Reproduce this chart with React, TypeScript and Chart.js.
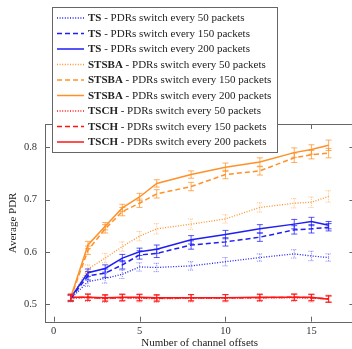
import React, { useEffect, useRef } from "react";
import { Chart, registerables } from "chart.js";

Chart.register(...registerables);

const channelOffsets = [1, 2, 3, 4, 5, 6, 8, 10, 12, 14, 15, 16];

const ts50 = [0.510, 0.543, 0.549, 0.557, 0.571, 0.570, 0.573, 0.581, 0.589, 0.596, 0.592, 0.589];
const ts150 = [0.511, 0.554, 0.559, 0.575, 0.594, 0.597, 0.613, 0.619, 0.628, 0.642, 0.644, 0.647];
const ts200 = [0.512, 0.560, 0.568, 0.588, 0.600, 0.605, 0.623, 0.633, 0.644, 0.653, 0.658, 0.651];
const stsba50 = [0.511, 0.567, 0.588, 0.610, 0.630, 0.644, 0.653, 0.663, 0.685, 0.693, 0.695, 0.706];
const stsba150 = [0.512, 0.603, 0.644, 0.677, 0.693, 0.711, 0.725, 0.748, 0.755, 0.780, 0.786, 0.789];
const stsba200 = [0.513, 0.613, 0.649, 0.684, 0.705, 0.731, 0.748, 0.762, 0.772, 0.790, 0.796, 0.804];
const tsch50 = [0.511, 0.512, 0.510, 0.512, 0.511, 0.510, 0.511, 0.511, 0.512, 0.512, 0.511, 0.510];
const tsch150 = [0.512, 0.513, 0.511, 0.512, 0.512, 0.511, 0.512, 0.512, 0.512, 0.513, 0.512, 0.510];
const tsch200 = [0.513, 0.513, 0.512, 0.513, 0.513, 0.512, 0.512, 0.512, 0.513, 0.513, 0.513, 0.509];

const ts50Err = [0.006, 0.009, 0.009, 0.008, 0.008, 0.008, 0.008, 0.008, 0.007, 0.008, 0.009, 0.007];
const ts150Err = [0.006, 0.008, 0.008, 0.008, 0.008, 0.008, 0.008, 0.008, 0.008, 0.008, 0.008, 0.007];
const ts200Err = [0.006, 0.007, 0.007, 0.007, 0.007, 0.008, 0.008, 0.008, 0.008, 0.009, 0.008, 0.007];
const stsba50Err = [0.006, 0.008, 0.009, 0.009, 0.009, 0.010, 0.010, 0.008, 0.009, 0.009, 0.010, 0.011];
const stsba150Err = [0.006, 0.008, 0.008, 0.008, 0.008, 0.008, 0.008, 0.008, 0.008, 0.009, 0.008, 0.009];
const stsba200Err = [0.006, 0.007, 0.007, 0.007, 0.007, 0.007, 0.007, 0.008, 0.008, 0.009, 0.009, 0.010];
const tsch50Err = [0.006, 0.007, 0.007, 0.007, 0.007, 0.007, 0.007, 0.007, 0.007, 0.007, 0.007, 0.007];
const tsch150Err = [0.006, 0.006, 0.006, 0.006, 0.006, 0.006, 0.006, 0.006, 0.006, 0.006, 0.006, 0.006];
const tsch200Err = [0.006, 0.006, 0.006, 0.006, 0.006, 0.006, 0.006, 0.006, 0.006, 0.006, 0.006, 0.006];

const algorithmNames = ["TS", "TS", "TS", "STSBA", "STSBA", "STSBA", "TSCH", "TSCH", "TSCH"];
const switchTexts = [
  " - PDRs switch every 50 packets",
  " - PDRs switch every 150 packets",
  " - PDRs switch every 200 packets",
  " - PDRs switch every 50 packets",
  " - PDRs switch every 150 packets",
  " - PDRs switch every 200 packets",
  " - PDRs switch every 50 packets",
  " - PDRs switch every 150 packets",
  " - PDRs switch every 200 packets",
];
const seriesValues = [ts50, ts150, ts200, stsba50, stsba150, stsba200, tsch50, tsch150, tsch200];
const seriesErrors = [ts50Err, ts150Err, ts200Err, stsba50Err, stsba150Err, stsba200Err, tsch50Err, tsch150Err, tsch200Err];

const xTitle = "Number of channel offsets";
const yTitle = "Average PDR";

const BLUE = "rgb(30,30,245)";
const ORANGE = "rgb(255,145,40)";
const RED = "rgb(255,20,20)";
const colors = [BLUE, BLUE, BLUE, ORANGE, ORANGE, ORANGE, RED, RED, RED];
const DOTTED = [1, 1.6];
const DASHED = [5, 3];
const dashes = [DOTTED, DASHED, [], DOTTED, DASHED, [], DOTTED, DASHED, []];

const SERIF = "'Liberation Serif', 'DejaVu Serif', serif";

const errorBarPlugin = {
  id: "errorBars",
  afterDatasetsDraw(chart: any) {
    const ctx = chart.ctx;
    const xs = chart.scales.x;
    const ys = chart.scales.y;
    ctx.save();
    ctx.beginPath();
    ctx.rect(chart.chartArea.left, chart.chartArea.top, chart.chartArea.right - chart.chartArea.left, chart.chartArea.bottom - chart.chartArea.top);
    ctx.clip();
    chart.data.datasets.forEach((ds: any, i: number) => {
      const errs = seriesErrors[i];
      const dash = dashes[i];
      const dotted = dash.length > 0 && dash[0] === 1;
      ctx.strokeStyle = colors[i];
      ctx.globalAlpha = dotted ? 0.55 : 0.75;
      ctx.lineWidth = 1;
      ctx.setLineDash(dotted ? [1, 1] : []);
      ds.data.forEach((p: any, j: number) => {
        const px = xs.getPixelForValue(p.x);
        const yt = ys.getPixelForValue(p.y + errs[j]);
        const yb = ys.getPixelForValue(p.y - errs[j]);
        ctx.beginPath();
        ctx.moveTo(px, yt);
        ctx.lineTo(px, yb);
        ctx.moveTo(px - 3, yt);
        ctx.lineTo(px + 3, yt);
        ctx.moveTo(px - 3, yb);
        ctx.lineTo(px + 3, yb);
        ctx.stroke();
      });
    });
    ctx.restore();
  },
};

const framePlugin = {
  id: "frameAndLegend",
  afterDraw(chart: any) {
    const ctx = chart.ctx;
    const { left, right, top, bottom } = chart.chartArea;
    const xs = chart.scales.x;
    const ys = chart.scales.y;
    ctx.save();
    ctx.strokeStyle = "#666";
    ctx.lineWidth = 1;
    ctx.setLineDash([]);
    ctx.strokeRect(Math.round(left) + 0.5, Math.round(top) + 0.5, Math.round(right - left), Math.round(bottom - top));
    ctx.beginPath();
    xs.ticks.forEach((t: any) => {
      const px = Math.round(xs.getPixelForValue(t.value)) + 0.5;
      ctx.moveTo(px, bottom);
      ctx.lineTo(px, bottom - 5);
      ctx.moveTo(px, top);
      ctx.lineTo(px, top + 5);
    });
    ys.ticks.forEach((t: any) => {
      const py = Math.round(ys.getPixelForValue(t.value)) + 0.5;
      ctx.moveTo(left, py);
      ctx.lineTo(left + 5, py);
      ctx.moveTo(right, py);
      ctx.lineTo(right - 5, py);
    });
    ctx.stroke();

    // legend
    const lx = 52, ly = 7, lw = 225, lh = 145;
    ctx.fillStyle = "#fff";
    ctx.fillRect(lx, ly, lw, lh);
    ctx.strokeStyle = "#666";
    ctx.strokeRect(lx + 0.5, ly + 0.5, lw, lh);
    const rowH = 15.5;
    for (let i = 0; i < algorithmNames.length; i++) {
      const cy = ly + 11 + i * rowH;
      ctx.strokeStyle = colors[i];
      ctx.lineWidth = 1.5;
      ctx.setLineDash(dashes[i]);
      ctx.beginPath();
      ctx.moveTo(lx + 5, cy);
      ctx.lineTo(lx + 32, cy);
      ctx.stroke();
      ctx.setLineDash([]);
      ctx.fillStyle = "#222";
      ctx.textBaseline = "middle";
      ctx.textAlign = "left";
      ctx.font = "bold 11px " + SERIF;
      ctx.fillText(algorithmNames[i], lx + 36, cy + 0.5);
      const w = ctx.measureText(algorithmNames[i]).width;
      ctx.font = "11px " + SERIF;
      ctx.fillText(switchTexts[i], lx + 36 + w, cy + 0.5);
    }
    ctx.restore();
  },
};

export default function App() {
  const canvasRef = useRef<HTMLCanvasElement>(null);
  useEffect(() => {
    if (!canvasRef.current) return;
    const datasets = seriesValues.map((vals, i) => ({
      label: algorithmNames[i] + switchTexts[i],
      data: channelOffsets.map((x, j) => ({ x, y: vals[j] })),
      borderColor: colors[i],
      backgroundColor: colors[i],
      borderWidth: dashes[i].length && dashes[i][0] === 1 ? 1.3 : 1.5,
      borderDash: dashes[i],
      pointRadius: 0,
      tension: 0,
      fill: false,
    }));
    const chart = new Chart(canvasRef.current, {
      type: "line",
      data: { datasets },
      options: {
        responsive: false,
        animation: false,
        devicePixelRatio: 1,
        layout: { padding: { top: 124, right: 5.6, left: 0, bottom: 0 } },
        plugins: { legend: { display: false }, tooltip: { enabled: false }, title: { display: false } },
        scales: {
          x: {
            type: "linear",
            min: -0.5,
            max: 17.5,
            grid: { display: false, drawTicks: false },
            border: { display: false },
            ticks: { stepSize: 5, includeBounds: false, padding: 3, color: "#333", font: { family: SERIF, size: 10.5 } },
            title: { display: true, text: xTitle, color: "#222", font: { family: SERIF, size: 11, lineHeight: 1 }, padding: { top: 0, bottom: 0 } },
            afterFit: (s: any) => { s.height = 27.3; },
          },
          y: {
            type: "linear",
            min: 0.4661,
            max: 0.8448,
            grid: { display: false, drawTicks: false },
            border: { display: false },
            ticks: { stepSize: 0.1, includeBounds: false, padding: 8, color: "#333", font: { family: SERIF, size: 10.5 }, callback: (v: any) => Number(v).toFixed(1) },
            title: { display: true, text: yTitle, color: "#222", font: { family: SERIF, size: 11, lineHeight: 1 }, padding: { top: 8, bottom: 0 } },
            afterFit: (s: any) => { s.width = 45; },
          },
        },
      },
      plugins: [errorBarPlugin, framePlugin],
    });
    return () => chart.destroy();
  }, []);
  return (
    <div style={{ position: "fixed", left: 0, top: 0, width: 352, height: 349, overflow: "hidden", background: "#fff" }}>
      <canvas ref={canvasRef} width={360} height={349} style={{ display: "block", width: 360, height: 349 }} />
    </div>
  );
}
